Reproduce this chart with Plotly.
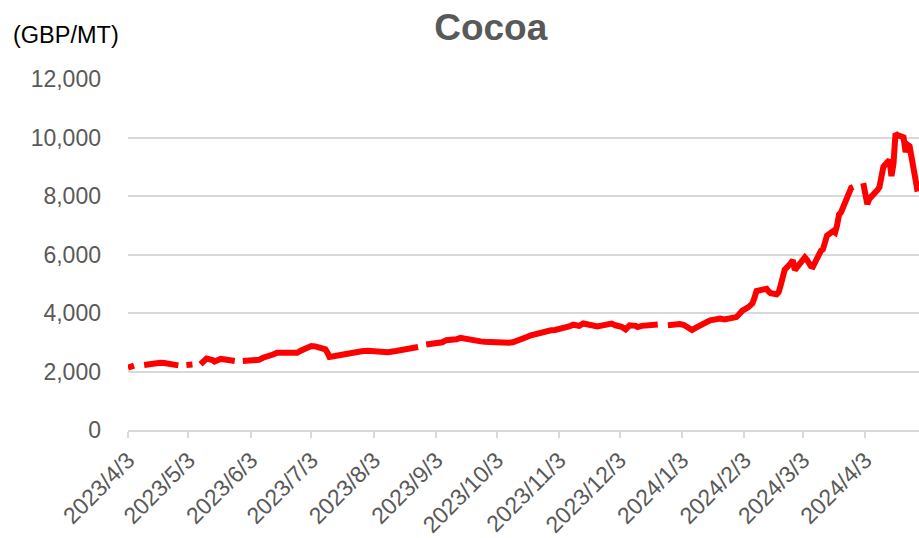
import plotly.graph_objects as go

# Cocoa price (GBP/MT), business days; None = holiday gap
dates = [
    "2023-04-03", "2023-04-04", "2023-04-05", "2023-04-06", "2023-04-07",
    "2023-04-11", "2023-04-13", "2023-04-17", "2023-04-19", "2023-04-21", "2023-04-25", "2023-04-27", "2023-04-28", "2023-05-01",
    "2023-05-02", "2023-05-03", "2023-05-04", "2023-05-05", "2023-05-08",
    "2023-05-09", "2023-05-10", "2023-05-12", "2023-05-15", "2023-05-16", "2023-05-18", "2023-05-19", "2023-05-22", "2023-05-23", "2023-05-25", "2023-05-26", "2023-05-29",
    "2023-05-30", "2023-06-01", "2023-06-05", "2023-06-07", "2023-06-09", "2023-06-12", "2023-06-14", "2023-06-16", "2023-06-20", "2023-06-22", "2023-06-26", "2023-06-28", "2023-06-30",
    "2023-07-03", "2023-07-05", "2023-07-07", "2023-07-10", "2023-07-11", "2023-07-12", "2023-07-14", "2023-07-17", "2023-07-19", "2023-07-21", "2023-07-24", "2023-07-26", "2023-07-28", "2023-07-31",
    "2023-08-02", "2023-08-04", "2023-08-08", "2023-08-10", "2023-08-14", "2023-08-16", "2023-08-18", "2023-08-21", "2023-08-23", "2023-08-24", "2023-08-25", "2023-08-28",
    "2023-08-29", "2023-08-31", "2023-09-04", "2023-09-06", "2023-09-08", "2023-09-11", "2023-09-13", "2023-09-15", "2023-09-18", "2023-09-20", "2023-09-22", "2023-09-25", "2023-09-27", "2023-09-29",
    "2023-10-02", "2023-10-04", "2023-10-06", "2023-10-09", "2023-10-11", "2023-10-13", "2023-10-16", "2023-10-18", "2023-10-20", "2023-10-23", "2023-10-25", "2023-10-27", "2023-10-30",
    "2023-11-01", "2023-11-03", "2023-11-06", "2023-11-08", "2023-11-10", "2023-11-13", "2023-11-15", "2023-11-17", "2023-11-20", "2023-11-22", "2023-11-24", "2023-11-27", "2023-11-29",
    "2023-12-01", "2023-12-04", "2023-12-06", "2023-12-07", "2023-12-08", "2023-12-11", "2023-12-12", "2023-12-14", "2023-12-18", "2023-12-20", "2023-12-22", "2023-12-25",
    "2023-12-27", "2023-12-29", "2024-01-02", "2024-01-04", "2024-01-05", "2024-01-08", "2024-01-10", "2024-01-12", "2024-01-15", "2024-01-17", "2024-01-19", "2024-01-22", "2024-01-24", "2024-01-26",
    "2024-01-29", "2024-01-30", "2024-01-31", "2024-02-01", "2024-02-02", "2024-02-05", "2024-02-06", "2024-02-07", "2024-02-08", "2024-02-09", "2024-02-12", "2024-02-13", "2024-02-14", "2024-02-15", "2024-02-16",
    "2024-02-19", "2024-02-20", "2024-02-21", "2024-02-22", "2024-02-23", "2024-02-26", "2024-02-27", "2024-02-28", "2024-02-29",
    "2024-03-01", "2024-03-04", "2024-03-05", "2024-03-06", "2024-03-07", "2024-03-08", "2024-03-11", "2024-03-12", "2024-03-13", "2024-03-14", "2024-03-15",
    "2024-03-18", "2024-03-19", "2024-03-20", "2024-03-21", "2024-03-22", "2024-03-25", "2024-03-26", "2024-03-27", "2024-03-28", "2024-03-29",
    "2024-04-02", "2024-04-03", "2024-04-04", "2024-04-05", "2024-04-08", "2024-04-09", "2024-04-10", "2024-04-11", "2024-04-12",
    "2024-04-15", "2024-04-16", "2024-04-17", "2024-04-18", "2024-04-19", "2024-04-22", "2024-04-23", "2024-04-24", "2024-04-25", "2024-04-26", "2024-04-29",
]
prices = [
    2130, 2150, 2190, 2200, None,
    2220, 2250, 2280, 2300, 2290, 2270, 2230, 2210, None,
    2220, 2210, 2230, 2240, None,
    2250, 2330, 2440, 2390, 2340, 2400, 2430, 2400, 2380, 2370, 2360, None,
    2360, 2370, 2380, 2400, 2470, 2520, 2580, 2640, 2620, 2630, 2640, 2720, 2800,
    2870, 2860, 2820, 2760, 2640, 2500, 2520, 2560, 2580, 2640, 2650, 2680, 2690, 2710,
    2700, 2680, 2640, 2660, 2700, 2720, 2740, 2770, 2780, 2810, 2840, None,
    2920, 2930, 2960, 3000, 3070, 3060, 3100, 3150, 3100, 3070, 3050, 3030, 3020, 3010,
    3040, 3010, 2990, 2980, 3000, 3040, 3120, 3180, 3240, 3300, 3350, 3380, 3410,
    3420, 3440, 3470, 3540, 3600, 3560, 3640, 3600, 3560, 3540, 3570, 3600, 3640,
    3580, 3530, 3440, 3500, 3580, 3560, 3520, 3560, 3580, 3600, 3610, None,
    3580, 3600, 3620, 3590, 3540, 3420, 3500, 3590, 3680, 3750, 3790, 3810, 3780, 3800,
    3810, 3860, 3930, 4030, 4080, 4200, 4260, 4330, 4520, 4750, 4800, 4810, 4830, 4740, 4680,
    4640, 4710, 4950, 5220, 5480, 5700, 5810, 5470, 5560,
    5650, 5900, 5820, 5700, 5600, 5580, 6070, 6130, 6180, 6550, 6650,
    6800, 6750, 7000, 7370, 7450, 7930, 8210, 8280, 8310, None,
    8440, 8100, 7720, 7900, 8080, 8200, 8300, 8560, 9000,
    9230, 8680, 9100, 10130, 10080, 10000, 9500, 9750, 9700, 9250, 8150,
]

tick_dates = ["2023-04-03", "2023-05-03", "2023-06-03", "2023-07-03", "2023-08-03", "2023-09-03",
              "2023-10-03", "2023-11-03", "2023-12-03", "2024-01-03", "2024-02-03", "2024-03-03", "2024-04-03"]
tick_labels = ["2023/4/3", "2023/5/3", "2023/6/3", "2023/7/3", "2023/8/3", "2023/9/3",
               "2023/10/3", "2023/11/3", "2023/12/3", "2024/1/3", "2024/2/3", "2024/3/3", "2024/4/3"]

FONT = "Liberation Sans, Arial, sans-serif"
GRID = "#d9d9d9"
TXT = "#595959"

fig = go.Figure()
fig.add_trace(go.Scatter(
    x=dates, y=prices, mode="lines", connectgaps=False,
    line=dict(color="#ff0000", width=6), hoverinfo="skip", showlegend=False,
))

fig.update_layout(
    width=919, height=538,
    margin=dict(l=128, r=0, t=79, b=105),
    paper_bgcolor="white", plot_bgcolor="white",
    font=dict(family=FONT, color=TXT, size=23),
    title=dict(text="<b>Cocoa</b>", font=dict(family=FONT, size=37, color=TXT),
               x=0.534, xref="container", xanchor="center",
               y=0.95, yref="container", yanchor="middle"),
    annotations=[dict(text="(GBP/MT)", xref="paper", yref="paper",
                      x=-0.1479, y=1.124, xanchor="left", yanchor="middle",
                      showarrow=False, font=dict(family=FONT, size=23.5, color="#000000"))],
)
fig.update_xaxes(
    type="date", range=["2023-04-03", "2024-04-29 16:00"],
    tickmode="array", tickvals=tick_dates, ticktext=tick_labels, tickangle=-45,
    ticks="outside", ticklen=6, tickcolor=GRID, tickwidth=1.5,
    showline=True, linecolor=GRID, linewidth=1.5, showgrid=False, zeroline=False,
    tickfont=dict(family=FONT, size=23, color=TXT),
)
fig.update_yaxes(
    range=[0, 12000], dtick=2000, tickformat=",", showgrid=True, gridcolor=GRID, gridwidth=1.5,
    zeroline=False, showline=False, ticks="", ticklabelstandoff=26,
    tickfont=dict(family=FONT, size=23, color=TXT),
)

fig.write_html("out.html", config={"displayModeBar": False},
               post_script="document.body.style.margin='0';")
